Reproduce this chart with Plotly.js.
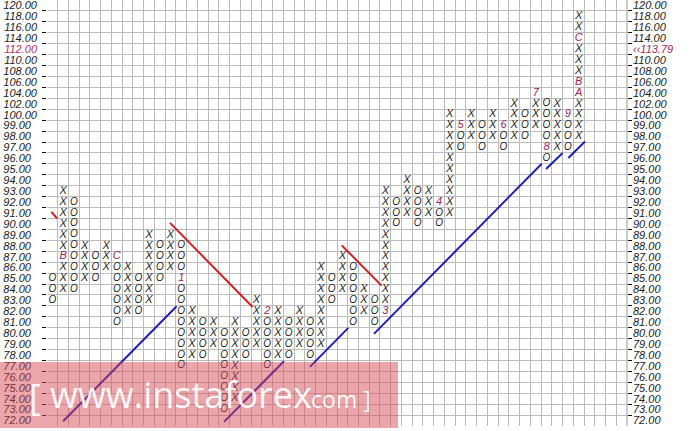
<!DOCTYPE html>
<html>
<head>
<meta charset="utf-8">
<script src="https://cdn.plot.ly/plotly-3.0.1.min.js"></script>
<style>html,body{margin:0;padding:0;background:#fff;}#chart{width:699px;height:431px;}</style>
</head>
<body>
<div id="chart"></div>
<script>
// ---- data ----
const priceLevels = [72,73,74,75,76,77,78,79,80,81,82,83,84,85,86,87,88,89,90,91,92,93,94,95,96,97,98,99,
                     100,102,104,106,108,110,112,114,116,118,120];
const lastPrice = 113.79;
const lastPriceLevel = 112;

const colType = ['O','X','O','X','O','X','O','X','O','X','O','X','O','X','O','X','O','X','O','X','O','X','O','X','O',
                 'X','O','X','O','X','O','X','O','X','O','X','O','X','O','X','O','X','O','X','O','X','O','X','O','X'];
const colLow  = [83,84,84,85,85,86,81,82,82,83,85,86,77,78,78,79,73,74,78,79,77,78,78,79,78,
                 79,83,84,81,82,81,82,90,91,90,91,90,91,97,98,97,98,97,98,98,99,96,97,97,98];
const colHigh = [85,93,92,88,87,88,87,86,85,89,88,89,88,82,81,81,80,81,80,83,82,82,81,82,81,
                 86,85,87,86,84,83,93,92,94,93,93,92,100,99,100,99,100,99,102,100,104,102,102,100,118];

const boxLabelCol   = [1,6,12,20,31,36,38,42,45,46,48,49,49,49];
const boxLabelPrice = [87,87,85,82,82,92,99,99,104,97,100,104,106,114];
const boxLabelText  = ['B','C','1','2','3','4','5','6','7','8','9','A','B','C'];

// trend lines (column, price) start -> end
const resistCol0 = [-0.1, 10.95, 26.94];
const resistP0   = [91.1, 90.1, 88.04];
const resistCol1 = [0.45, 18.64, 30.65];
const resistP1   = [90.5, 82.4, 84.35];

const supportCol0 = [1.0, 15.98, 23.98, 29.94, 45.96, 48.04];
const supportP0   = [71.94, 71.88, 76.91, 79.93, 95.03, 96.03];
const supportCol1 = [11.57, 21.56, 27.55, 45.56, 47.51, 49.59];
const supportP1   = [82.46, 77.43, 80.48, 95.51, 96.5, 97.55];

// ---- helpers ----
function rowOf(p){
  if (p <= 99) return p - 72;
  if (p >= 100) return 28 + (p - 100) / 2;
  return 27 + (p - 99);
}
const labelKey = {};
boxLabelCol.forEach((c,i)=>{ labelKey[c+'_'+boxLabelPrice[i]] = true; });

const xs = {X:[],O:[]}, ys = {X:[],O:[]};
colType.forEach((t,c)=>{
  priceLevels.forEach(L=>{
    if (L >= colLow[c] && L <= colHigh[c] && !labelKey[c+'_'+L]) {
      xs[t].push(c); ys[t].push(rowOf(L));
    }
  });
});

const traces = [];
const markSize = {X:11, O:10};
['X','O'].forEach(t=>{
  traces.push({type:'scatter', mode:'text', x:xs[t], y:ys[t], text:xs[t].map(()=>t),
    textposition:'middle center',
    textfont:{family:'Liberation Sans, Arial, sans-serif', size:markSize[t], color:'#1e1e1e', style:'italic'},
    hoverinfo:'skip', cliponaxis:false});
});
traces.push({type:'scatter', mode:'text', x:boxLabelCol, y:boxLabelPrice.map(rowOf), text:boxLabelText,
  textposition:'middle center', textfont:{family:'Liberation Sans, Arial, sans-serif', size:11, color:'#9b2358', style:'italic'},
  hoverinfo:'skip'});

resistCol0.forEach((c,i)=>{
  traces.push({type:'scatter', mode:'lines', x:[c, resistCol1[i]], y:[rowOf(resistP0[i]), rowOf(resistP1[i])],
    line:{color:'#d42020', width:2}, hoverinfo:'skip'});
});
supportCol0.forEach((c,i)=>{
  traces.push({type:'scatter', mode:'lines', x:[c, supportCol1[i]], y:[rowOf(supportP0[i]), rowOf(supportP1[i])],
    line:{color:'#1f1fb8', width:2}, hoverinfo:'skip'});
});

const rows = priceLevels.map(rowOf);
const leftText = priceLevels.map(p=>{
  const s = p.toFixed(2) + (p < 100 ? '\u2007' : '');
  return p === lastPriceLevel ? '<span style="color:#b0305e">'+s+'</span>' : s;
});
const rightText = priceLevels.map(p=>{
  return p === lastPriceLevel ? '<span style="color:#a3285a">\u2039\u2039'+lastPrice.toFixed(2)+'</span>' : p.toFixed(2);
});
const boundaries = [];
for (let r = 0; r < priceLevels.length - 1; r++) boundaries.push(r + 0.5);

const tickFont = {family:'Liberation Sans, Arial, sans-serif', size:11, color:'#222', style:'italic'};
const gridColor = '#bcbcbc';

// watermark placement (plot area: 47..627 px wide, 0..426 px tall)
function px(x){ return (x - 47) / 580; }
function py(y){ return (426 - y) / 426; }

const layout = {
  width:699, height:431,
  margin:{l:47, r:72, t:0, b:5, pad:0},
  paper_bgcolor:'#fff', plot_bgcolor:'#fff',
  showlegend:false,
  xaxis:{range:[-0.5, 53.5], tickmode:'linear', tick0:-0.5, dtick:1, showticklabels:false, ticks:'',
         showgrid:true, gridcolor:gridColor, gridwidth:1, zeroline:false, showline:false, fixedrange:true},
  yaxis:{range:[-0.5, 38.5], tickmode:'array', tickvals:rows, ticktext:leftText, ticks:'',
         tickfont:tickFont, showgrid:false, zeroline:false, showline:false, ticklabelstandoff:9,
         ticklabeloverflow:'allow',
         minor:{tickmode:'array', tickvals:boundaries, ticks:'outside', ticklen:4, tickcolor:'#111', tickwidth:1,
                showgrid:true, gridcolor:gridColor, gridwidth:1}},
  yaxis2:{range:[-0.5, 38.5], overlaying:'y', side:'right', tickmode:'array', tickvals:rows, ticktext:rightText,
         ticks:'', tickfont:tickFont, showgrid:false, zeroline:false, showline:false, ticklabelstandoff:5,
         ticklabeloverflow:'allow',
         minor:{tickmode:'array', tickvals:boundaries, ticks:'outside', ticklen:4, tickcolor:'#111', tickwidth:1, showgrid:false}},
  shapes:[
    {type:'line', xref:'paper', yref:'paper', x0:1, x1:1, y0:0, y1:1, line:{color:'#999', width:1}},
    {type:'rect', xref:'paper', yref:'paper', layer:'above', x0:px(0), x1:px(398), y0:py(428), y1:py(362),
     fillcolor:'rgba(214,70,82,0.48)', line:{width:0}}
  ],
  annotations:[
    {xref:'paper', yref:'paper', x:px(27), y:py(396), xanchor:'left', yanchor:'middle', showarrow:false,
     text:'[', font:{family:'Open Sans, sans-serif', size:36, color:'rgba(255,255,255,0.92)'}},
    {xref:'paper', yref:'paper', x:px(48), y:py(394), xanchor:'left', yanchor:'middle', showarrow:false,
     text:'www.instaforex', font:{family:'Open Sans, sans-serif', size:36, color:'rgba(255,255,255,0.92)'}},
    {xref:'paper', yref:'paper', x:px(303), y:py(399), xanchor:'left', yanchor:'middle', showarrow:false,
     text:'.com ]', font:{family:'Open Sans, sans-serif', size:23, color:'rgba(255,255,255,0.92)'}}
  ]
};
traces.push({type:'scatter', mode:'markers', x:[0], y:[0], yaxis:'y2', marker:{opacity:0}, hoverinfo:'skip'});

Plotly.newPlot('chart', traces, layout, {staticPlot:true, displayModeBar:false});
</script>
</body>
</html>
